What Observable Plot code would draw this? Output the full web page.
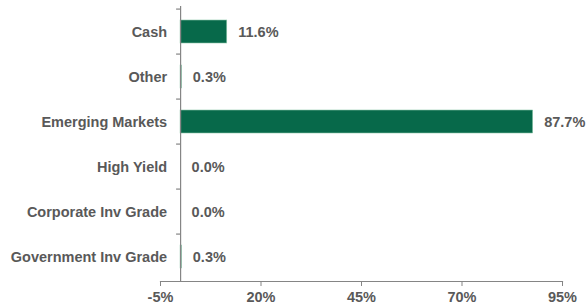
<!DOCTYPE html>
<html>
<head>
<meta charset="utf-8">
<script src="https://cdn.jsdelivr.net/npm/d3@7"></script>
<script src="https://cdn.jsdelivr.net/npm/@observablehq/plot@0.6"></script>
<style>
  html, body { margin: 0; padding: 0; background: #fff; }
  svg { font-family: "Liberation Sans", Arial, sans-serif; }
</style>
</head>
<body>
<div id="chart"></div>
<script>
const categories = ["Cash", "Other", "Emerging Markets", "High Yield", "Corporate Inv Grade", "Government Inv Grade"];
const values = [11.6, 0.3, 87.7, 0.0, 0.0, 0.3];
const xTicks = [-5, 20, 45, 70, 95];

const data = categories.map((c, i) => ({category: c, value: values[i]}));

const W = 587, H = 304, mt = 6, mb = 23, ml = 160, mr = 25;
const step = (H - mt - mb) / categories.length;
const grey = "#595959";
const axisGrey = "#858585";

const chart = Plot.plot({
  width: W,
  height: H,
  marginTop: mt,
  marginBottom: mb,
  marginLeft: ml,
  marginRight: mr,
  style: {fontFamily: "'Liberation Sans', Arial, sans-serif", fontSize: "14.5px", fontWeight: "bold", color: grey, background: "#fff"},
  x: {domain: [-5, 95], axis: null},
  y: {domain: categories, paddingInner: 0.5, paddingOuter: 0.25, axis: null},
  marks: [
    Plot.barX(data, {x1: 0, x2: "value", y: "category", fill: "#07694a", stroke: "#8cc5a8", strokeWidth: 0.6}),
    Plot.ruleX([0], {stroke: axisGrey, strokeWidth: 1.2}),
    Plot.ruleY(categories, {y: d => d, x1: -1, x2: 0, dy: -step / 2, stroke: axisGrey, strokeWidth: 1.2}),
    Plot.axisX({ticks: xTicks, tickFormat: d => d + "%", tickSize: 5, tickPadding: 5, stroke: axisGrey, fill: grey, fontWeight: "bold", fontSize: 14.5, label: null}),
    Plot.frame({anchor: "bottom", stroke: axisGrey, strokeWidth: 1.2}),
    Plot.text(categories, {y: d => d, x: 0, dx: -13.5, textAnchor: "end", fill: grey, fontWeight: "bold", fontSize: 14.5}),
    Plot.text(data, {x: "value", y: "category", text: d => d.value.toFixed(1) + "%", dx: 11, textAnchor: "start", fill: grey, fontWeight: "bold", fontSize: 14.5})
  ]
});
document.getElementById("chart").appendChild(chart);
</script>
</body>
</html>
